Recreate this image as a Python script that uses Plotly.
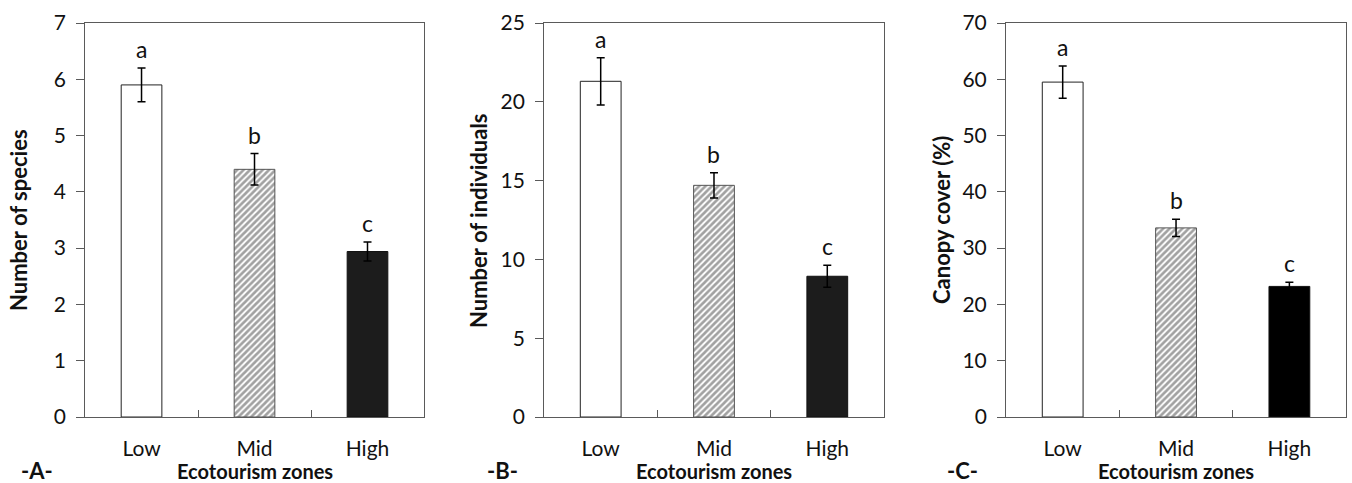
import plotly.graph_objects as go

categories = ["Low", "Mid", "High"]
species = [5.9, 4.4, 2.94]
species_se = [0.3, 0.28, 0.17]
individuals = [21.3, 14.7, 8.93]
individuals_se = [1.5, 0.8, 0.7]
canopy = [59.5, 33.6, 23.2]
canopy_se = [2.85, 1.55, 0.75]
letters = ["a", "b", "c"]

panels = [
    dict(vals=species, se=species_se, ytitle="Number of species", tag="-A-",
         ymax=7, dtick=1, xdom=(0.0629, 0.3136), ytx=18, tagx=37, high="#1c1c1c"),
    dict(vals=individuals, se=individuals_se, ytitle="Number of individuals", tag="-B-",
         ymax=25, dtick=5, xdom=(0.4024, 0.6538), ytx=478, tagx=502, high="#1c1c1c"),
    dict(vals=canopy, se=canopy_se, ytitle="Canopy cover (%)", tag="-C-",
         ymax=70, dtick=10, xdom=(0.7441, 0.9956), ytx=941, tagx=963, high="#000000"),
]

W, H = 1352, 483
FONT = "Lato"
ydom = (1 - 417 / H, 1 - 23 / H)

fig = go.Figure()
annotations = []
layout = {}
for i, p in enumerate(panels):
    sfx = "" if i == 0 else str(i + 1)
    xa, ya = "x" + sfx, "y" + sfx
    fig.add_trace(go.Bar(
        x=categories, y=p["vals"], xaxis=xa, yaxis=ya, width=0.36,
        marker=dict(
            color=["#ffffff", "#ffffff", p["high"]],
            line=dict(color=["#222222", "#555555", "#111111"], width=1),
            pattern=dict(shape=["", "/", ""], fgcolor="#000000", bgcolor="#ffffff",
                         size=4.5, solidity=0.6),
        ),
        error_y=dict(type="data", array=p["se"], visible=True, color="#000000",
                     thickness=1.5, width=4),
        showlegend=False,
    ))
    layout["xaxis" + sfx] = dict(
        domain=list(p["xdom"]), anchor=ya, range=[-0.5, 2.5], type="category",
        showline=True, linecolor="#5a5a5a", linewidth=1, mirror=True,
        ticks="inside", tickson="boundaries", ticklen=7, tickcolor="#5a5a5a",
        ticklabelstandoff=13, showgrid=False, zeroline=False, automargin=False,
        tickfont=dict(family=FONT, size=21, color="#111111"),
    )
    layout["yaxis" + sfx] = dict(
        domain=list(ydom), anchor=xa, range=[0, p["ymax"]], dtick=p["dtick"],
        showline=True, linecolor="#5a5a5a", linewidth=1, mirror=True,
        ticks="outside", ticklen=8, tickcolor="#5a5a5a", showgrid=False,
        zeroline=False, ticklabelstandoff=6, automargin=False,
        tickfont=dict(family=FONT, size=21, color="#111111"),
    )
    for c, v, e, l in zip(categories, p["vals"], p["se"], letters):
        annotations.append(dict(
            x=c, y=v + e, xref=xa, yref=ya, text=l, showarrow=False,
            yanchor="bottom", yshift=3,
            font=dict(family=FONT, size=23, color="#111111"),
        ))
    xc = (p["xdom"][0] + p["xdom"][1]) / 2
    annotations.append(dict(
        x=xc, y=1 - 471 / H, xref="paper", yref="paper", text="<b>Ecotourism zones</b>",
        showarrow=False, xanchor="center", yanchor="middle",
        font=dict(family=FONT, size=20, color="#111111"),
    ))
    annotations.append(dict(
        x=p["tagx"] / W, y=1 - 470 / H, xref="paper", yref="paper", text="<b>" + p["tag"] + "</b>",
        showarrow=False, xanchor="center", yanchor="middle",
        font=dict(family=FONT, size=22, color="#111111"),
    ))
    annotations.append(dict(
        x=p["ytx"] / W, y=(ydom[0] + ydom[1]) / 2, xref="paper", yref="paper",
        text="<b>" + p["ytitle"] + "</b>", textangle=-90,
        showarrow=False, xanchor="center", yanchor="middle",
        font=dict(family=FONT, size=22, color="#111111"),
    ))

fig.update_layout(
    width=W, height=H, margin=dict(l=0, r=0, t=0, b=0, autoexpand=False),
    paper_bgcolor="white", plot_bgcolor="white",
    annotations=annotations, bargap=0.64, **layout,
)
fig.write_html("out.html")
